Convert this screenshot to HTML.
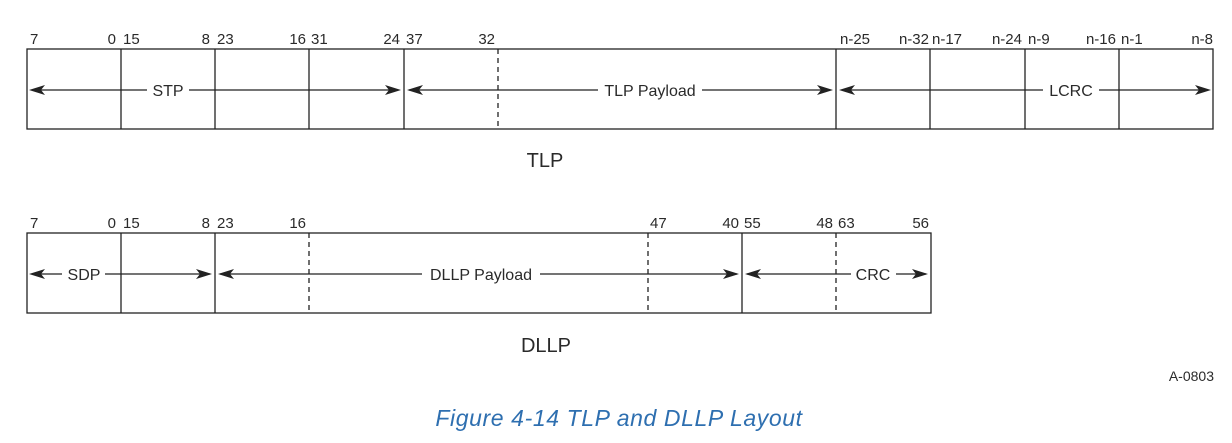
<!DOCTYPE html>
<html><head><meta charset="utf-8"><style>
html,body{margin:0;padding:0;background:#fff;}
svg{display:block}
text{font-family:"Liberation Sans",Arial,sans-serif;fill:#2a2a2a}
</style></head><body>
<svg width="1232" height="443" viewBox="0 0 1232 443" xmlns="http://www.w3.org/2000/svg">
<g stroke="#222" stroke-width="1.3" fill="none">
<rect x="27" y="49" width="1186" height="80"/>
<line x1="121" y1="49" x2="121" y2="129"/>
<line x1="215" y1="49" x2="215" y2="129"/>
<line x1="309" y1="49" x2="309" y2="129"/>
<line x1="404" y1="49" x2="404" y2="129"/>
<line x1="498" y1="49" x2="498" y2="129" stroke-dasharray="5,4"/>
<line x1="836" y1="49" x2="836" y2="129"/>
<line x1="930" y1="49" x2="930" y2="129"/>
<line x1="1025" y1="49" x2="1025" y2="129"/>
<line x1="1119" y1="49" x2="1119" y2="129"/>
<line x1="32" y1="90" x2="398" y2="90"/>
<line x1="409" y1="90" x2="830" y2="90"/>
<line x1="842" y1="90" x2="1208" y2="90"/>
<rect x="27" y="233" width="904" height="80"/>
<line x1="121" y1="233" x2="121" y2="313"/>
<line x1="215" y1="233" x2="215" y2="313"/>
<line x1="309" y1="233" x2="309" y2="313" stroke-dasharray="5,4"/>
<line x1="648" y1="233" x2="648" y2="313" stroke-dasharray="5,4"/>
<line x1="742" y1="233" x2="742" y2="313"/>
<line x1="836" y1="233" x2="836" y2="313" stroke-dasharray="5,4"/>
<line x1="32" y1="274" x2="210" y2="274"/>
<line x1="220" y1="274" x2="737" y2="274"/>
<line x1="747" y1="274" x2="926" y2="274"/>
</g>
<g fill="#222">
<path d="M29,90 L45,85 L41,90 L45,95 Z"/>
<path d="M401,90 L385,85 L389,90 L385,95 Z"/>
<path d="M407,90 L423,85 L419,90 L423,95 Z"/>
<path d="M833,90 L817,85 L821,90 L817,95 Z"/>
<path d="M839,90 L855,85 L851,90 L855,95 Z"/>
<path d="M1211,90 L1195,85 L1199,90 L1195,95 Z"/>
<path d="M29,274 L45,269 L41,274 L45,279 Z"/>
<path d="M212,274 L196,269 L200,274 L196,279 Z"/>
<path d="M218,274 L234,269 L230,274 L234,279 Z"/>
<path d="M739,274 L723,269 L727,274 L723,279 Z"/>
<path d="M745,274 L761,269 L757,274 L761,279 Z"/>
<path d="M928,274 L912,269 L916,274 L912,279 Z"/>
</g>
<g fill="#fff">
<rect x="147" y="80" width="42" height="20"/>
<rect x="598" y="80" width="104" height="20"/>
<rect x="1043" y="80" width="56" height="20"/>
<rect x="62" y="264" width="43" height="20"/>
<rect x="422" y="264" width="118" height="20"/>
<rect x="851" y="264" width="45" height="20"/>
</g>
<g font-size="16" text-anchor="middle">
<text x="168" y="96">STP</text>
<text x="650" y="96">TLP Payload</text>
<text x="1071" y="96">LCRC</text>
<text x="84" y="280">SDP</text>
<text x="481" y="280">DLLP Payload</text>
<text x="873" y="280">CRC</text>
</g>
<g font-size="15">
<text x="30" y="44">7</text>
<text x="116" y="44" text-anchor="end">0</text>
<text x="123" y="44">15</text>
<text x="210" y="44" text-anchor="end">8</text>
<text x="217" y="44">23</text>
<text x="306" y="44" text-anchor="end">16</text>
<text x="311" y="44">31</text>
<text x="400" y="44" text-anchor="end">24</text>
<text x="406" y="44">37</text>
<text x="495" y="44" text-anchor="end">32</text>
<text x="840" y="44">n-25</text>
<text x="929" y="44" text-anchor="end">n-32</text>
<text x="932" y="44">n-17</text>
<text x="1022" y="44" text-anchor="end">n-24</text>
<text x="1028" y="44">n-9</text>
<text x="1116" y="44" text-anchor="end">n-16</text>
<text x="1121" y="44">n-1</text>
<text x="1213" y="44" text-anchor="end">n-8</text>
<text x="30" y="228">7</text>
<text x="116" y="228" text-anchor="end">0</text>
<text x="123" y="228">15</text>
<text x="210" y="228" text-anchor="end">8</text>
<text x="217" y="228">23</text>
<text x="306" y="228" text-anchor="end">16</text>
<text x="650" y="228">47</text>
<text x="739" y="228" text-anchor="end">40</text>
<text x="744" y="228">55</text>
<text x="833" y="228" text-anchor="end">48</text>
<text x="838" y="228">63</text>
<text x="929" y="228" text-anchor="end">56</text>
</g>
<text x="545" y="167" font-size="20" text-anchor="middle">TLP</text>
<text x="546" y="352" font-size="20" text-anchor="middle">DLLP</text>
<text x="1214" y="381" font-size="14" text-anchor="end">A-0803</text>
<text x="619" y="426" font-size="23" font-style="italic" text-anchor="middle" letter-spacing="0.6" style="fill:#2e6fb0">Figure  4-14  TLP and DLLP Layout</text>
</svg>
</body></html>
